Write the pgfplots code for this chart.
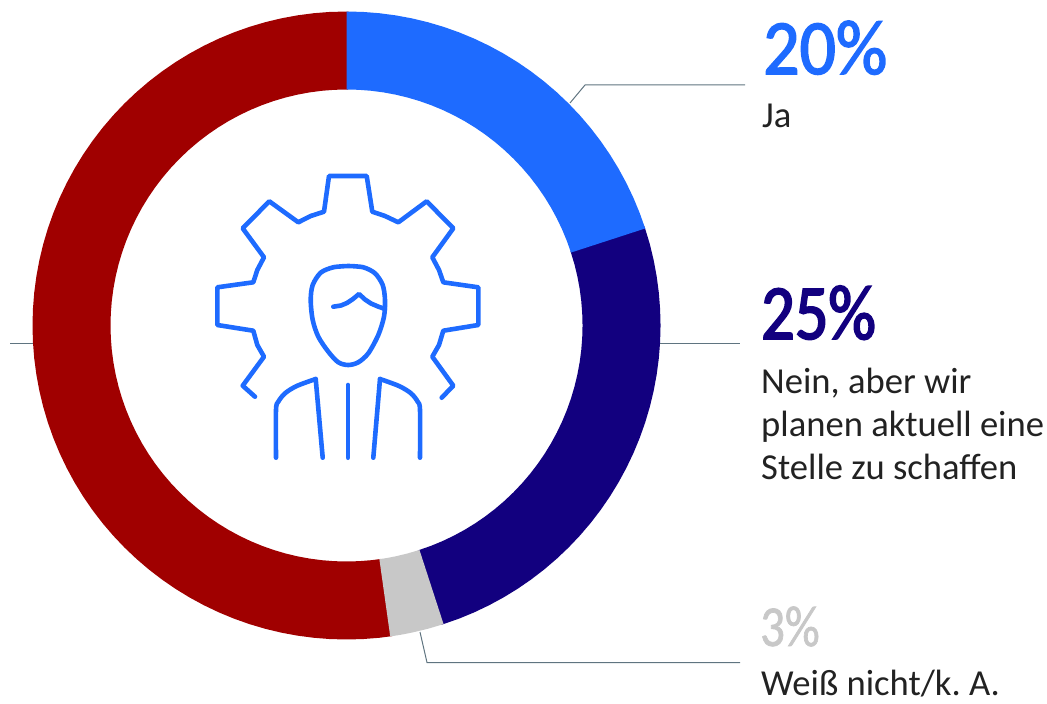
\documentclass[border=0pt]{standalone}
\usepackage{pgfplots}
\pgfplotsset{compat=1.18}
\usepackage{fontspec}
\setmainfont{Carlito}
\newfontfamily\pcta[FakeBold=2,FakeStretch=0.92]{Carlito}
\newfontfamily\pctb[FakeBold=2.4,FakeStretch=0.85]{Carlito}
\newfontfamily\pctc[FakeBold=1.2,FakeStretch=0.84]{Carlito}
\definecolor{cblue}{HTML}{1E6BFF}
\definecolor{cnavy}{HTML}{12007F}
\definecolor{cred}{HTML}{A00000}
\definecolor{cgrey}{HTML}{C8C8C8}
\definecolor{cline}{HTML}{5F7480}
\definecolor{ctext}{HTML}{222222}
\newcommand{\bodyf}{\fontsize{36.6}{44}\selectfont\color{ctext}\frenchspacing}
\begin{document}
\begin{tikzpicture}
\useasboundingbox (0,0) rectangle (1047pt,704pt);
% ring: angle and radius of the outline of each share
\begin{axis}[at={(0,0)},anchor=south west,scale only axis,width=1047pt,height=704pt,
  xmin=-346.5,xmax=700.5,ymin=-378.5,ymax=325.5,hide axis,clip=false]
\addplot[data cs=polar,fill=cred,draw=none,no markers] coordinates {
(-81.6,314)(-84,314)(-87,314)(-90,314)(-93,314)(-96,314)(-99,314)(-102,314)(-105,314)(-108,314)(-111,314)(-114,314)(-117,314)(-120,314)(-123,314)(-126,314)(-129,314)(-132,314)(-135,314)(-138,314)(-141,314)(-144,314)(-147,314)(-150,314)(-153,314)(-156,314)(-159,314)(-162,314)(-165,314)(-168,314)(-171,314)(-174,314)(-177,314)(-180,314)(-183,314)(-186,314)(-189,314)(-192,314)(-195,314)(-198,314)(-201,314)(-204,314)(-207,314)(-210,314)(-213,314)(-216,314)(-219,314)(-222,314)(-225,314)(-228,314)(-231,314)(-234,314)(-237,314)(-240,314)(-243,314)(-246,314)(-249,314)(-252,314)(-255,314)(-258,314)(-261,314)(-264,314)(-267,314)(-270.4,314)
(-270.4,236)(-267,236)(-264,236)(-261,236)(-258,236)(-255,236)(-252,236)(-249,236)(-246,236)(-243,236)(-240,236)(-237,236)(-234,236)(-231,236)(-228,236)(-225,236)(-222,236)(-219,236)(-216,236)(-213,236)(-210,236)(-207,236)(-204,236)(-201,236)(-198,236)(-195,236)(-192,236)(-189,236)(-186,236)(-183,236)(-180,236)(-177,236)(-174,236)(-171,236)(-168,236)(-165,236)(-162,236)(-159,236)(-156,236)(-153,236)(-150,236)(-147,236)(-144,236)(-141,236)(-138,236)(-135,236)(-132,236)(-129,236)(-126,236)(-123,236)(-120,236)(-117,236)(-114,236)(-111,236)(-108,236)(-105,236)(-102,236)(-99,236)(-96,236)(-93,236)(-90,236)(-87,236)(-84,236)(-81.6,236)} --cycle;
\addplot[data cs=polar,fill=cnavy,draw=none,no markers] coordinates {
(18.4,314)(15,314)(12,314)(9,314)(6,314)(3,314)(0,314)(-3,314)(-6,314)(-9,314)(-12,314)(-15,314)(-18,314)(-21,314)(-24,314)(-27,314)(-30,314)(-33,314)(-36,314)(-39,314)(-42,314)(-45,314)(-48,314)(-51,314)(-54,314)(-57,314)(-60,314)(-63,314)(-66,314)(-69,314)(-72.4,314)
(-72.4,236)(-69,236)(-66,236)(-63,236)(-60,236)(-57,236)(-54,236)(-51,236)(-48,236)(-45,236)(-42,236)(-39,236)(-36,236)(-33,236)(-30,236)(-27,236)(-24,236)(-21,236)(-18,236)(-15,236)(-12,236)(-9,236)(-6,236)(-3,236)(0,236)(3,236)(6,236)(9,236)(12,236)(15,236)(18.4,236)} --cycle;
\addplot[data cs=polar,fill=cgrey,draw=none,no markers] coordinates {
(-72,314)(-75,314)(-78,314)(-80,314)(-82,314)(-82,236)(-80,236)(-78,236)(-75,236)(-72,236)} --cycle;
\addplot[data cs=polar,fill=cblue,draw=none,no markers] coordinates {
(90,314)(87,314)(84,314)(81,314)(78,314)(75,314)(72,314)(69,314)(66,314)(63,314)(60,314)(57,314)(54,314)(51,314)(48,314)(45,314)(42,314)(39,314)(36,314)(33,314)(30,314)(27,314)(24,314)(21,314)(18,314)
(18,236)(21,236)(24,236)(27,236)(30,236)(33,236)(36,236)(39,236)(42,236)(45,236)(48,236)(51,236)(54,236)(57,236)(60,236)(63,236)(66,236)(69,236)(72,236)(75,236)(78,236)(81,236)(84,236)(87,236)(90,236)} --cycle;
\end{axis}
% everything else in the picture's own pixel coordinates
\begin{axis}[at={(0,0)},anchor=south west,scale only axis,width=1047pt,height=704pt,
  xmin=0,xmax=1047,ymin=0,ymax=704,y dir=reverse,hide axis,clip=false]
\pgfplotsset{every axis plot/.append style={no markers}}
% leaders
\addplot[cline,line width=1pt] coordinates {(570,103)(585,85)(745,85)};
\addplot[cline,line width=1pt] coordinates {(660,343)(740,343)};
\addplot[cline,line width=1pt] coordinates {(10,343)(33,343)};
\addplot[cline,line width=1pt] coordinates {(420,632)(427,662.5)(740,662.5)};
% icon
\pgfplotsset{icon/.style={cblue,line width=4.6pt,line cap=round,line join=round}}
\addplot[icon] coordinates {(255,396.7)(242.7,385.7)(264,356.7)(257.3,345)(253.3,330.7)(217.3,325)(217.3,287.3)(253.3,282.3)(257.3,270)(264,257.3)(242.7,228.3)(269.3,201.3)(298.3,222.3)(310.7,216)(324,211.7)(329,176)(366.7,176)(372.3,211.7)(385,216)(398.3,222.3)(426.7,201.3)(453.3,228.3)(432.3,257.3)(439,270)(443.3,282.3)(478.3,287.3)(478.3,325)(443.3,330.7)(439,345)(432.3,356.7)(453.3,385.7)(441.7,397.7)};
\addplot[icon,smooth] coordinates {(348.3,266)(363.3,267.3)(375,273.3)(382.7,285)(385,300)(384,316.7)(378.3,335)(368.3,353.3)(358.3,362.3)(348.3,365)(338.3,362.3)(328.3,351.7)(318.3,336.7)(312.7,320)(310.7,300)(312.7,285)(320.7,272.7)(333.3,267.3)(348.3,266)};
\addplot[icon] coordinates {(333.3,306.7)(341,305.5)(347,303)(353,299)(359,294)(365,299.5)(371,303.5)(378,306.5)(385,309)};
\addplot[icon,smooth] coordinates {(276,457.7)(276,410)(278.3,401.7)(285,393.3)(296.7,386)(315.7,379)};
\addplot[icon] coordinates {(315.7,379)(322.7,457.7)};
\addplot[icon] coordinates {(373.3,457.7)(380,379)};
\addplot[icon,smooth] coordinates {(380,379)(399,386)(411,393.3)(417.7,401.7)(420,410)(420,457.7)};
\addplot[icon] coordinates {(348,385)(348,457.7)};
% labels
\node[anchor=base west,inner sep=0pt,text=cblue] at (axis cs:763,74) {\pcta\fontsize{78}{78}\selectfont 20\%};
\node[anchor=base west,inner sep=0pt] at (axis cs:762,127) {\bodyf Ja};
\node[anchor=base west,inner sep=0pt,text=cnavy] at (axis cs:761,339) {\pctb\fontsize{78}{78}\selectfont 25\%};
\node[anchor=base west,inner sep=0pt] at (axis cs:761,393) {\bodyf Nein, aber wir};
\node[anchor=base west,inner sep=0pt] at (axis cs:761,436) {\bodyf planen aktuell eine};
\node[anchor=base west,inner sep=0pt] at (axis cs:761,479) {\bodyf Stelle zu schaffen};
\node[anchor=base west,inner sep=0pt,text=cgrey] at (axis cs:760,646) {\pctc\fontsize{58}{58}\selectfont 3\%};
\node[anchor=base west,inner sep=0pt] at (axis cs:761,695) {\bodyf Weiß nicht/k. A.};
\end{axis}
\end{tikzpicture}
\end{document}
